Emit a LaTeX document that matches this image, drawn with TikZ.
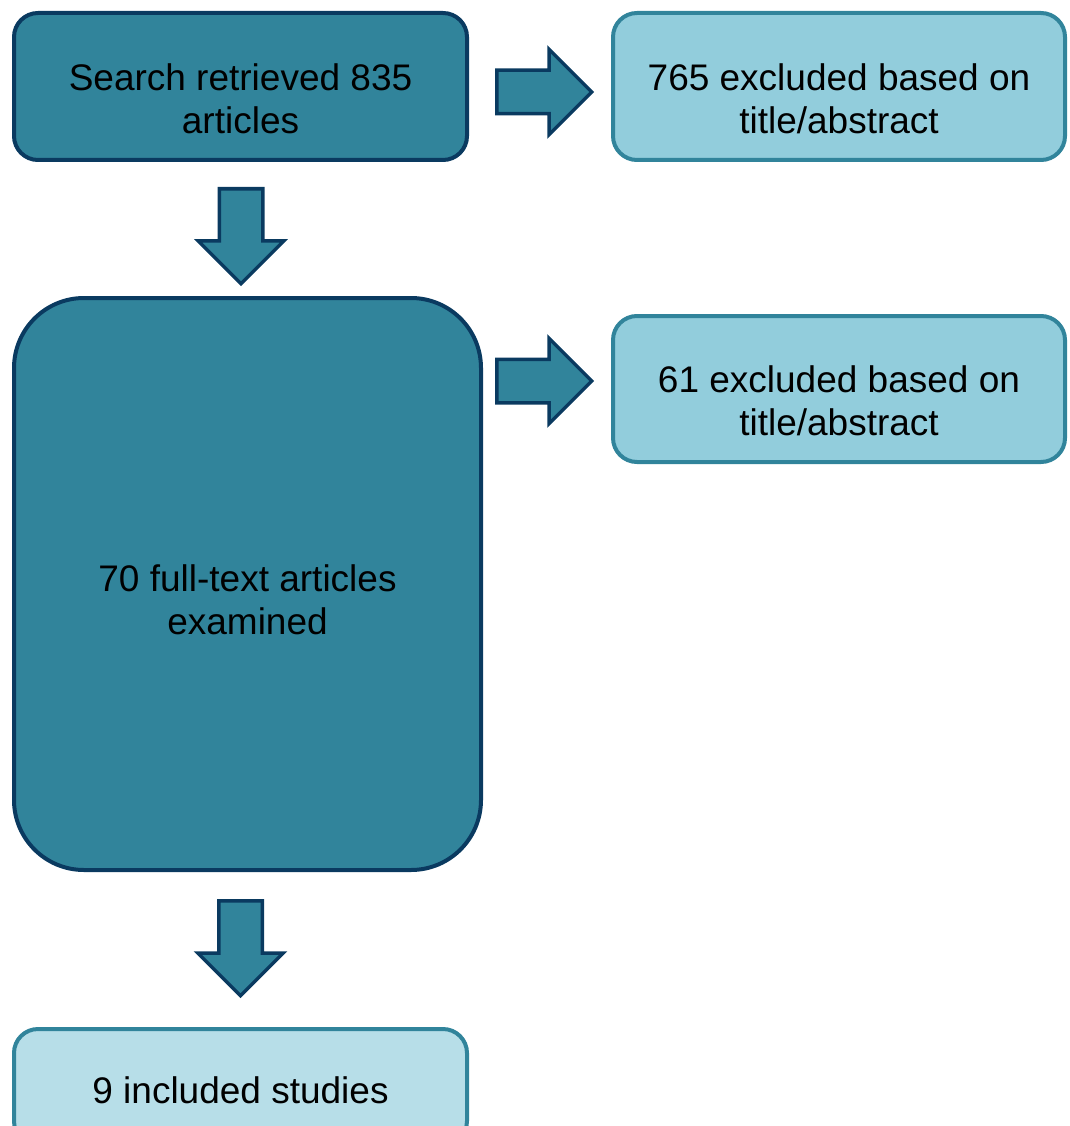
\documentclass[tikz,border=0pt]{standalone}
\usepackage{fontspec}
\setmainfont{Liberation Sans}
\usetikzlibrary{shapes.arrows,calc,positioning}
\definecolor{tealdark}{HTML}{31849B}
\definecolor{navyline}{HTML}{0A3A60}
\definecolor{aqualight}{HTML}{92CDDC}
\definecolor{aquapale}{HTML}{B7DEE8}
\tikzset{
  darkbox/.style={draw=navyline, fill=tealdark, line width=4pt, rounded corners=24pt},
  lightbox/.style={draw=tealdark, fill=aqualight, line width=4pt, rounded corners=24pt},
  boxlabel/.style={align=center, font=\fontsize{37}{43}\selectfont},
  blockarrow/.style={single arrow, draw=navyline, fill=tealdark, line width=3.5pt, anchor=tail,
    inner xsep=0pt, inner ysep=20pt, single arrow head extend=21pt, minimum height=95pt},
}
\begin{document}
\begin{tikzpicture}[x=1pt,y=-1pt]
    \clip (0,0) rectangle (1069,1126);
    % boxes
    \node[darkbox, minimum width=453pt, minimum height=147pt] (search) at (240.5,86.5) {};
    \node[lightbox, minimum width=452pt, minimum height=147pt] (screenout) at (839,86.5) {};
    \node[darkbox, rounded corners=70pt, minimum width=467pt, minimum height=572pt] (fulltext) at (247.5,584) {};
    \node[lightbox, minimum width=452pt, minimum height=146pt] (fulltextout) at (839,389) {};
    \node[lightbox, fill=aquapale, minimum width=453pt, minimum height=116pt] (included) at (240.5,1087) {};
    % texts
    \node[boxlabel] (search-txt) at ($(search.center)+(0,12)$) {Search retrieved 835\\articles};
    \node[boxlabel] (screenout-txt) at ($(screenout.center)+(0,12)$) {765 excluded based on\\title/abstract};
    \node[boxlabel] (fulltext-txt) at ($(fulltext.center)+(0,16)$) {70 full-text articles\\examined};
    \node[boxlabel] (fulltextout-txt) at ($(fulltextout.center)+(0,12)$) {61 excluded based on\\title/abstract};
    \node[boxlabel] (included-txt) at ($(included.center)+(0,3)$) {9 included studies};
    % block arrows
    \node[blockarrow] (arr-screen) at ($(search.east)+(26,5.5)$) {};
    \node[blockarrow, rotate=-90] (arr-full) at ($(search.south)+(0.5,25)$) {};
    \node[blockarrow] (arr-fullout) at ($(search.east |- fulltextout.west)+(26,-8)$) {};
    \node[blockarrow, rotate=-90] (arr-incl) at ($(included.north)+(0,-128)$) {};
\end{tikzpicture}
\end{document}
